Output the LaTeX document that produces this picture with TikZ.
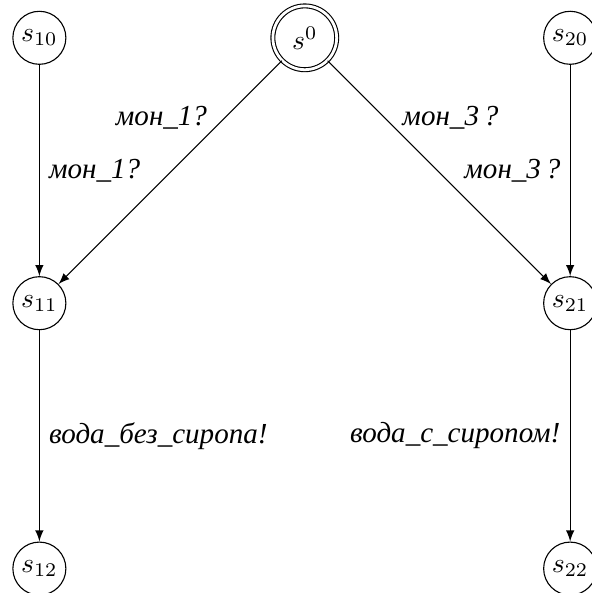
\documentclass[tikz,border=0pt]{standalone}
\usepackage[no-math]{fontspec}
\newfontfamily\cyrfont{Liberation Serif}
\usepackage{tikz}
\usetikzlibrary{positioning}

\begin{document}
\begin{tikzpicture}[node distance=3.37cm,on grid,>=latex]
\tikzstyle{loc}=[draw,circle,inner sep=1.8pt]
\tikzstyle{lab}=[font=\cyrfont\itshape\fontsize{10.5}{12}\selectfont]
\useasboundingbox (-3.87,0.48) rectangle (3.645,-7.05);
\node[loc,double,double distance=1pt,minimum size=0.81cm] (s0) {$s^0$};
\node[loc,left=of s0] (s10) {$s_{10}$};
\node[loc,right=of s0] (s20) {$s_{20}$};
\node[loc,below=of s10] (s11) {$s_{11}$};
\node[loc,below=of s20] (s21) {$s_{21}$};
\node[loc,below=of s11] (s12) {$s_{12}$};
\node[loc,below=of s21] (s22) {$s_{22}$};
\draw[->] (s0) -- node[lab,pos=.32,above left,inner sep=1pt] {мон\_1?} (s11);
\draw[->] (s10) -- node[lab,right] {мон\_1?} (s11);
\draw[->] (s0) -- node[lab,pos=.32,above right,inner sep=1pt] {мон\_3\,?} (s21);
\draw[->] (s20) -- node[lab,left] {мон\_3\,?} (s21);
\draw[->] (s11) -- node[lab,right] {вода\_без\_сиропа!} (s12);
\draw[->] (s21) -- node[lab,left] {вода\_с\_сиропом!} (s22);
\end{tikzpicture}
\end{document}
